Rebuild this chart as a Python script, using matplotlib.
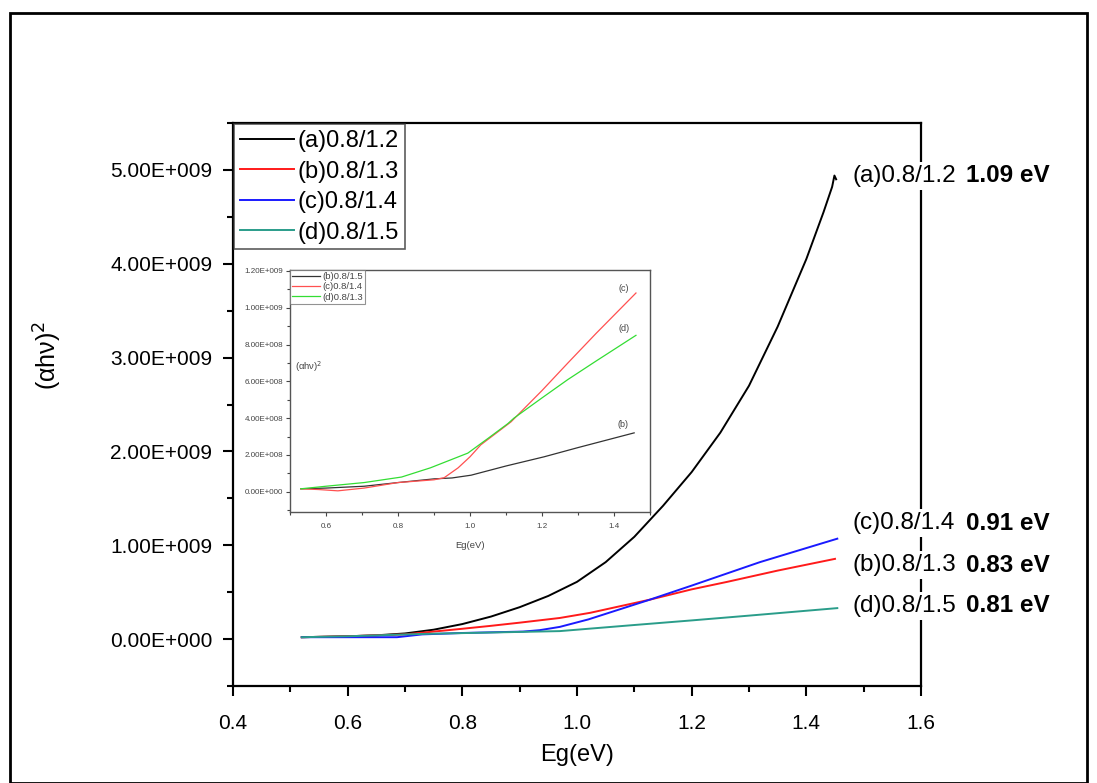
import numpy as np
import matplotlib
matplotlib.use("Agg")
import matplotlib.pyplot as plt
from matplotlib.ticker import MultipleLocator, FuncFormatter
from matplotlib.patches import Rectangle

plt.rcParams['font.family'] = ['Liberation Sans', 'DejaVu Sans']

# main plot data, (alpha h nu)^2 in units of 1e9
a_x = [0.52, 0.60, 0.65, 0.70, 0.75, 0.80, 0.85, 0.90, 0.95, 1.00, 1.05, 1.10,
       1.15, 1.20, 1.25, 1.30, 1.35, 1.40, 1.43, 1.445, 1.449, 1.452]
a_y = [0.02, 0.03, 0.04, 0.06, 0.10, 0.16, 0.24, 0.34, 0.46, 0.61, 0.82, 1.09,
       1.42, 1.78, 2.20, 2.70, 3.33, 4.05, 4.55, 4.82, 4.94, 4.90]
b_x = [0.52, 0.60, 0.70, 0.80, 0.848, 0.90, 0.97, 1.023, 1.127, 1.20, 1.262, 1.35, 1.45]
b_y = [0.02, 0.03, 0.05, 0.11, 0.14, 0.175, 0.225, 0.28, 0.42, 0.53, 0.61, 0.73, 0.855]
c_x = [0.52, 0.60, 0.686, 0.73, 0.80, 0.906, 0.935, 0.97, 1.02, 1.127, 1.20, 1.319, 1.454]
c_y = [0.02, 0.02, 0.02, 0.05, 0.065, 0.08, 0.095, 0.13, 0.21, 0.42, 0.57, 0.82, 1.07]
d_x = [0.52, 0.60, 0.73, 0.85, 0.97, 1.00, 1.10, 1.202, 1.30, 1.454]
d_y = [0.02, 0.03, 0.055, 0.07, 0.085, 0.10, 0.15, 0.20, 0.25, 0.33]

main_labels = ["(a)0.8/1.2", "(b)0.8/1.3", "(c)0.8/1.4", "(d)0.8/1.5"]
main_colors = ["black", "#ff1a1a", "#1a1aff", "#2a9d8a"]
gap_values = ["1.09 eV", "0.83 eV", "0.91 eV", "0.81 eV"]

# inset data, units of 1e9
ib_x = [0.53, 0.60, 0.706, 0.80, 0.90, 0.95, 1.003, 1.10, 1.206, 1.30, 1.456]
ib_y = [0.016, 0.02, 0.03, 0.05, 0.07, 0.075, 0.09, 0.14, 0.19, 0.24, 0.32]
ic_x = [0.53, 0.58, 0.633, 0.706, 0.80, 0.90, 0.928, 0.967, 1.00, 1.03, 1.114, 1.20, 1.272, 1.35, 1.461]
ic_y = [0.016, 0.012, 0.005, 0.02, 0.05, 0.065, 0.076, 0.13, 0.19, 0.255, 0.38, 0.55, 0.70, 0.86, 1.08]
id_x = [0.53, 0.60, 0.706, 0.81, 0.89, 0.994, 1.05, 1.105, 1.122, 1.20, 1.272, 1.35, 1.461]
id_y = [0.016, 0.03, 0.05, 0.08, 0.13, 0.21, 0.29, 0.37, 0.40, 0.51, 0.61, 0.71, 0.85]
inset_labels = ["(b)0.8/1.5", "(c)0.8/1.4", "(d)0.8/1.3"]
inset_colors = ["#333333", "#ff5050", "#33dd33"]


def sci_fmt(v, pos):
    if abs(v) < 1:
        return "0.00E+000"
    e = int(np.floor(np.log10(abs(v))))
    return "%.2fE+%03d" % (v / 10**e, e)


fig = plt.figure(figsize=(10.97, 7.83), dpi=100)
# outer border
fig.patches.append(Rectangle((10/1097, 0.0), 1077/1097, 1 - 13/783, transform=fig.transFigure,
                             fill=False, lw=2, ec="black"))

ax = fig.add_axes([233/1097, 1 - 686/783, 688/1097, 563/783])
series = [(a_x, a_y), (b_x, b_y), (c_x, c_y), (d_x, d_y)]
for (xs, ys), lab, col in zip(series, main_labels, main_colors):
    ax.plot(xs, np.array(ys) * 1e9, color=col, lw=1.4, label=lab)

ax.set_xlim(0.4, 1.6)
ax.set_ylim(-0.5e9, 5.5e9)
ax.xaxis.set_major_locator(MultipleLocator(0.2))
ax.xaxis.set_minor_locator(MultipleLocator(0.1))
ax.yaxis.set_major_locator(MultipleLocator(1e9))
ax.yaxis.set_minor_locator(MultipleLocator(0.5e9))
ax.yaxis.set_major_formatter(FuncFormatter(sci_fmt))
ax.xaxis.set_major_formatter(FuncFormatter(lambda v, p: "%.1f" % v))
ax.tick_params(which="major", direction="out", length=7, width=1.5, labelsize=15)
ax.tick_params(axis="x", which="major", pad=13)
ax.tick_params(axis="y", which="major", pad=8)
ax.tick_params(which="minor", direction="out", length=4, width=1.5)
ax.tick_params(top=False, right=False)
for s in ax.spines.values():
    s.set_linewidth(1.6)
ax.set_xlabel("Eg(eV)", fontsize=17, labelpad=8)
ax.set_ylabel("(αhν)$^2$", fontsize=18)
ax.yaxis.set_label_coords(-0.245, 0.588)

leg = ax.legend(loc="upper left", fontsize=17, frameon=True, fancybox=False,
                borderaxespad=0.05, handlelength=2.3, handletextpad=0.15,
                labelspacing=0.36, borderpad=0.25)
leg.get_frame().set_edgecolor("#333333")
leg.get_frame().set_linewidth(1.2)

# band-gap labels at the right, covering the right spine
label_y = [176, 565, 523, 606]
for lab, gap, yp in zip(main_labels, gap_values, label_y):
    fig.text(852/1097, 1 - yp/783, lab, fontsize=17.5, va="center", ha="left",
             bbox=dict(fc="white", ec="none", pad=2))
    fig.text(1050/1097, 1 - yp/783, gap, fontsize=17.5, fontweight="bold", va="center", ha="right",
             bbox=dict(fc="white", ec="none", pad=2))

# inset
ins = fig.add_axes([290/1097, 1 - 512/783, 360/1097, 242/783])
inset_series = [(ib_x, ib_y), (ic_x, ic_y), (id_x, id_y)]
for (xs, ys), lab, col in zip(inset_series, inset_labels, inset_colors):
    ins.plot(xs, np.array(ys) * 1e9, color=col, lw=0.9, label=lab)
ins.set_xlim(0.5, 1.5)
ins.set_ylim(-0.11e9, 1.205e9)
ins.xaxis.set_major_locator(MultipleLocator(0.2))
ins.xaxis.set_minor_locator(MultipleLocator(0.1))
ins.yaxis.set_major_locator(MultipleLocator(0.2e9))
ins.yaxis.set_minor_locator(MultipleLocator(0.1e9))
ins.yaxis.set_major_formatter(FuncFormatter(sci_fmt))
ins.xaxis.set_major_formatter(FuncFormatter(lambda v, p: "%.1f" % v))
ins.tick_params(which="major", direction="out", length=3, width=0.8, labelsize=5.8,
                colors="#444444", pad=2)
ins.tick_params(axis="x", which="major", pad=5)
ins.tick_params(which="minor", direction="out", length=2, width=0.8, colors="#444444")
for s in ins.spines.values():
    s.set_linewidth(1.0)
    s.set_edgecolor("#555555")
ins.set_xlabel("Eg(eV)", fontsize=6.8, color="#444444", labelpad=8)
ins.text(0.015, 0.60, "(αhν)$^2$", transform=ins.transAxes, fontsize=6.8, color="#444444",
         va="center", ha="left")
ileg = ins.legend(loc="upper left", fontsize=6.8, frameon=True, fancybox=False,
                  borderaxespad=0.0, handlelength=3.0, handletextpad=0.2,
                  labelspacing=0.15, borderpad=0.2)
ileg.get_frame().set_edgecolor("#777777")
ileg.get_frame().set_linewidth(0.8)
for t in ileg.get_texts():
    t.set_color("#444444")
ins.text(1.428, 1.08e9, "(c)", fontsize=6.5, color="#444444", ha="center", va="bottom")
ins.text(1.428, 0.86e9, "(d)", fontsize=6.5, color="#444444", ha="center", va="bottom")
ins.text(1.425, 0.34e9, "(b)", fontsize=6.5, color="#444444", ha="center", va="bottom")

fig.savefig("out.png", dpi=100)
